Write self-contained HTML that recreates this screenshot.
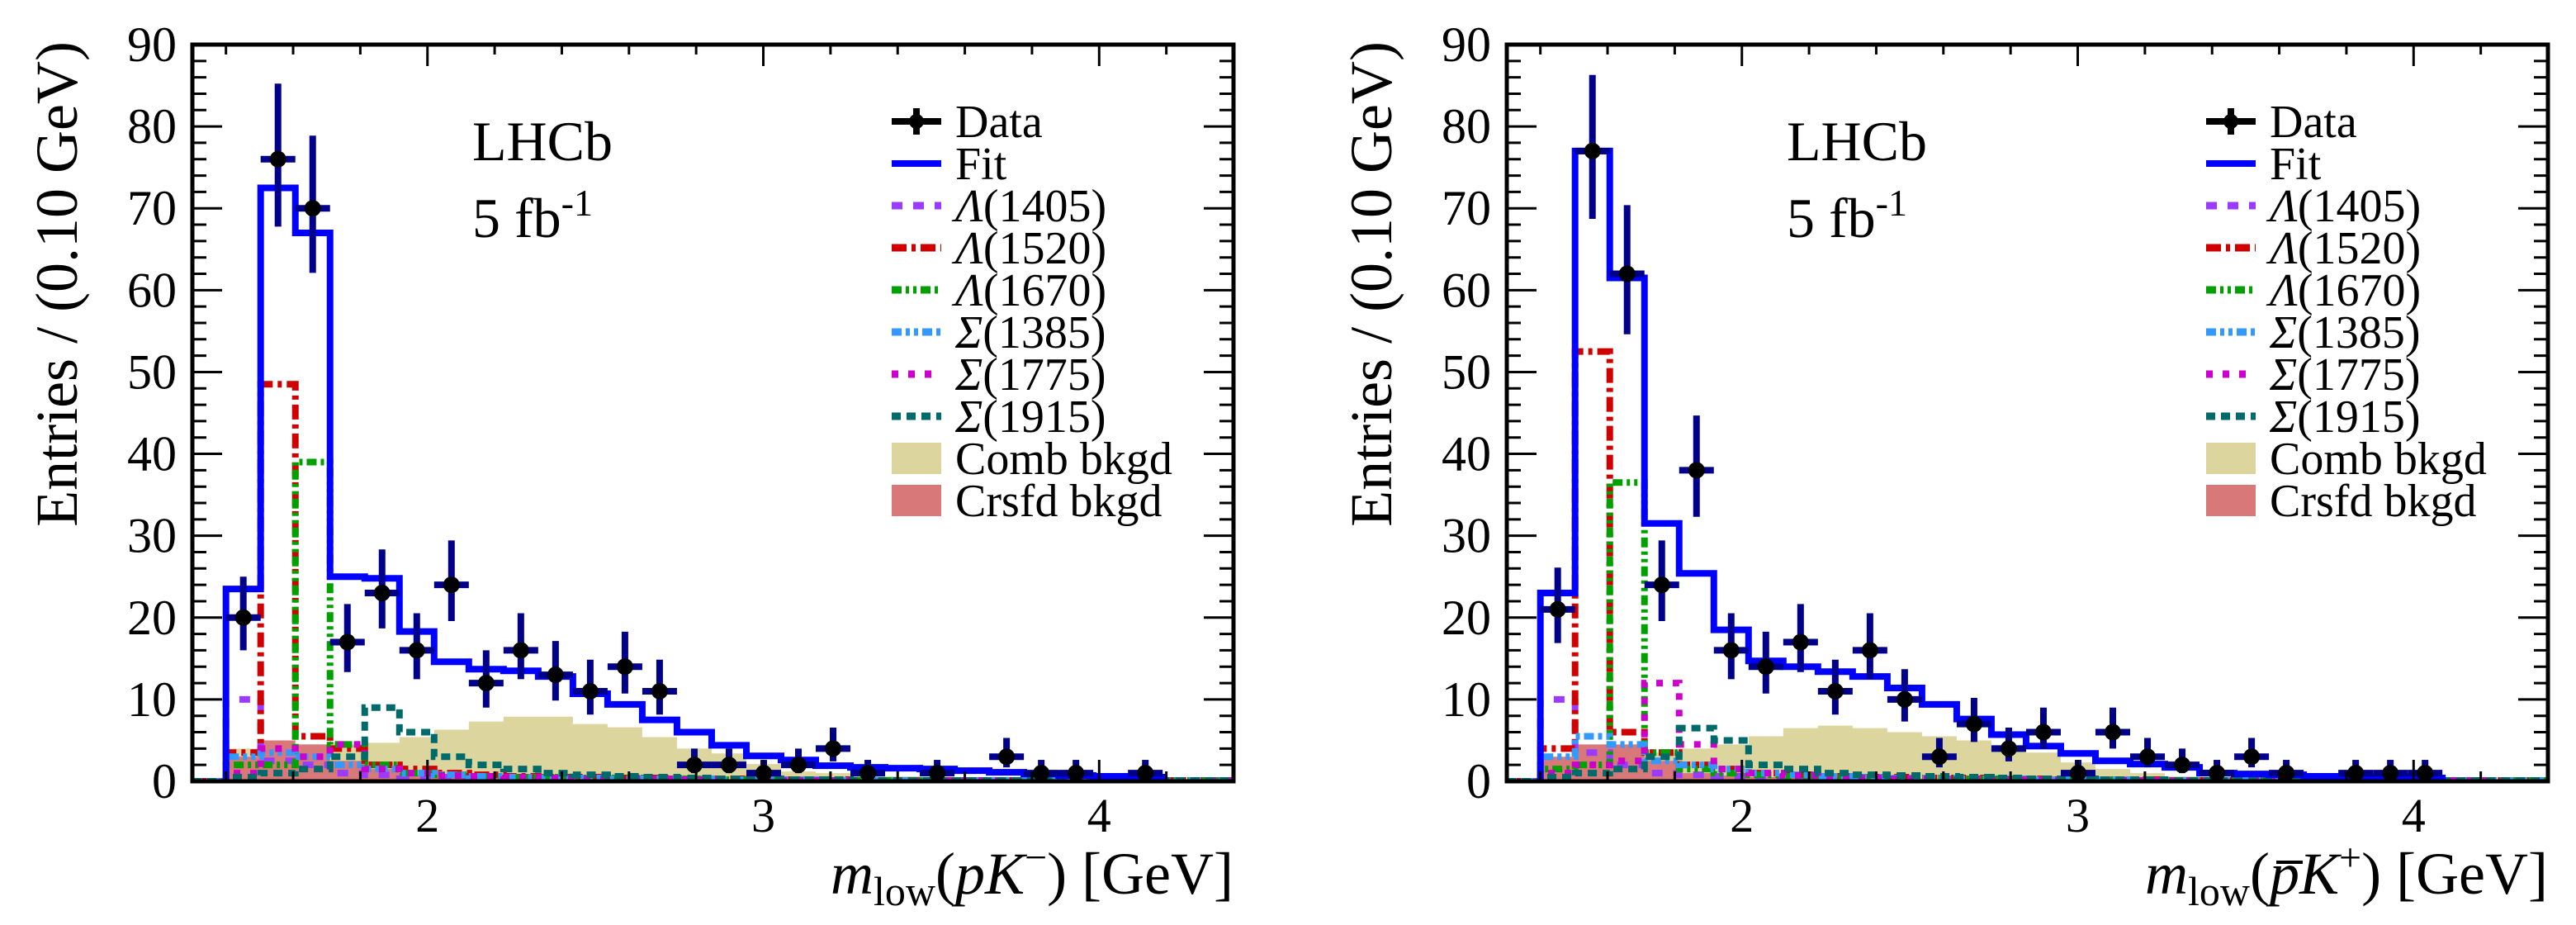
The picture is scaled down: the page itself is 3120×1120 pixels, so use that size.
<!DOCTYPE html>
<html><head><meta charset="utf-8"><style>
html,body{margin:0;padding:0;background:#fff;}
svg{display:block;font-family:"Liberation Serif","DejaVu Serif",serif;}
</style></head><body>
<svg id="chart" width="3120" height="1120" viewBox="0 0 3120 1120" xmlns="http://www.w3.org/2000/svg"></svg>
<script>
// ---- data (bin index 0 starts at 1.4 GeV) ----
const binStart = 1.4;
const binWidth = 0.1033;
const xTicks = [2, 3, 4];
const yTicks = [0, 10, 20, 30, 40, 50, 60, 70, 80, 90];

const dataL = [20,76,70,17,23,16,24,12,16,13,11,14,11,2,2,1,2,4,1,0,1,0,3,1,1,0,1,0];
const fitL = [23.5,72.5,67,25,24.8,18.3,14.6,13.7,13.5,12.8,10.7,9.4,7.5,6,4.4,3.1,2.6,1.9,1.7,1.6,1.5,1.3,1.1,0.9,0.7,0.6,0.5];
const combL = [4,4.5,4.5,4.5,4.7,5.4,6.3,7.3,7.9,7.9,7,6.6,5.4,4,3.4,2.1,1.2,1,0.8,0.6,0.5,0.4,0.3,0.3,0.2,0.2,0.1,0.1,0.1,0.1];
const crsfdL = [3,5,4.5,2.5,1.5,0.8,0.6,0.5,0.4,0.4,0.3,0.3,0.2,0.2,0.2,0.1,0.1,0.1,0.1,0.1,0.1,0.1,0.1,0.1,0.1,0.1,0.1,0.1,0.1,0.1];
const l1405L = [10,2.5,2,1,0.8,0.6,0.5,0.4,0.4,0.3,0.3,0.3,0.2,0.2,0.2,0.2,0.1,0.1,0.1,0.1,0.1,0.1,0.1,0.1,0.1,0.1,0.1,0.1,0.1,0.1];
const l1520L = [3.5,48.5,5.5,4,2,1.5,1,0.8,0.6,0.5,0.5,0.4,0.4,0.3,0.3,0.2,0.2,0.2,0.1,0.1,0.1,0.1,0.1,0.1,0.1,0.1,0.1,0.1,0.1,0.1];
const l1670L = [2,2,39,4.5,2,1,0.8,0.6,0.5,0.5,0.4,0.4,0.3,0.3,0.2,0.2,0.2,0.1,0.1,0.1,0.1,0.1,0.1,0.1,0.1,0.1,0.1,0.1,0.1,0.1];
const s1385L = [3,3.5,3,2,1.5,1,0.8,0.6,0.5,0.4,0.4,0.3,0.3,0.3,0.2,0.2,0.2,0.1,0.1,0.1,0.1,0.1,0.1,0.1,0.1,0.1,0.1,0.1,0.1,0.1];
const s1775L = [1,4,3,4.5,1.5,1,0.7,0.6,0.5,0.4,0.3,0.3,0.3,0.2,0.2,0.2,0.1,0.1,0.1,0.1,0.1,0.1,0.1,0.1,0.1,0.1,0.1,0.1,0.1,0.1];
const s1915L = [0.5,1,1.5,3,9,6,3,2,1.5,1,0.8,0.6,0.5,0.4,0.3,0.3,0.2,0.2,0.1,0.1,0.1,0.1,0.1,0.1,0.1,0.1,0.1,0.1,0.1,0.1];

const dataR = [21,77,62,24,38,16,14,17,11,16,10,3,7,4,6,1,6,3,2,1,3,1,0,1,1,1];
const fitR = [23,77,61.5,31.5,25.4,18.5,14.7,14,13.4,12.8,11.4,9.4,7.6,5.7,4.3,3.4,2.5,2.1,1.7,1.0,0.9,0.8,0.6,0.5,0.5,0.4];
const combR = [2,3,3.5,3.5,4,4.5,5.5,6.5,6.8,6.5,6,5.5,5,4,3.5,2.3,1.5,1,0.6,0.5,0.4,0.3,0.3,0.2,0.2,0.1,0.1,0.1,0.1,0.1];
const crsfdR = [3,4.5,4.5,2.5,1,0.7,0.5,0.4,0.4,0.3,0.3,0.2,0.2,0.2,0.2,0.1,0.1,0.1,0.1,0.1,0.1,0.1,0.1,0.1,0.1,0.1,0.1,0.1,0.1,0.1];
const l1405R = [10,3.5,2,1,0.8,0.6,0.5,0.4,0.4,0.3,0.3,0.3,0.2,0.2,0.2,0.2,0.1,0.1,0.1,0.1,0.1,0.1,0.1,0.1,0.1,0.1,0.1,0.1,0.1,0.1];
const l1520R = [4,52.5,6,3.5,2,1.5,1,0.8,0.6,0.5,0.5,0.4,0.4,0.3,0.3,0.2,0.2,0.2,0.1,0.1,0.1,0.1,0.1,0.1,0.1,0.1,0.1,0.1,0.1,0.1];
const l1670R = [1.5,2,36.5,3.5,1.5,1,0.8,0.6,0.5,0.5,0.4,0.4,0.3,0.3,0.2,0.2,0.2,0.1,0.1,0.1,0.1,0.1,0.1,0.1,0.1,0.1,0.1,0.1,0.1,0.1];
const s1385R = [3,5.5,4.5,2.5,2,1.5,1,0.8,0.6,0.5,0.4,0.4,0.3,0.3,0.2,0.2,0.2,0.1,0.1,0.1,0.1,0.1,0.1,0.1,0.1,0.1,0.1,0.1,0.1,0.1];
const s1775R = [1,2,2.5,12,4.5,1.5,1,0.7,0.5,0.4,0.3,0.3,0.3,0.2,0.2,0.2,0.1,0.1,0.1,0.1,0.1,0.1,0.1,0.1,0.1,0.1,0.1,0.1,0.1,0.1];
const s1915R = [0.5,1,1.5,3,6.5,5,2,1.5,1,0.8,0.7,0.6,0.5,0.4,0.3,0.3,0.2,0.2,0.1,0.1,0.1,0.1,0.1,0.1,0.1,0.1,0.1,0.1,0.1,0.1];

const legendLabels = ["Data","Fit","1405","1520","1670","1385","1775","1915","Comb bkgd","Crsfd bkgd"];

const NS = "http://www.w3.org/2000/svg";
const svg = document.getElementById("chart");
function mk(tag, attrs, parent){
  const e = document.createElementNS(NS, tag);
  for (const k in attrs) e.setAttribute(k, attrs[k]);
  (parent || svg).appendChild(e);
  return e;
}

const X0 = 1.3, X1 = 4.4, PX0 = 233, PX1 = 1494, PY0 = 946, PY1 = 54, YMAX = 90;

function drawPanel(off, id, dat, fit, comb, crsfd, comps, xTitleHTML, overlineIdx) {
  const xs = v => off + PX0 + (v - X0) / (X1 - X0) * (PX1 - PX0);
  const ys = v => PY0 - v / YMAX * (PY0 - PY1);
  const edge = i => xs(binStart + i * binWidth);

  const g = mk("g", {});
  
  
  const cp = mk("clipPath", {id: id + "clip"}, g);
  mk("rect", {x: xs(X0), y: PY1, width: xs(X1) - xs(X0), height: PY0 - PY1}, cp);
  const plot = mk("g", {"clip-path": "url(#" + id + "clip)"}, g);

  function stepPath(vals, n) {
    let d = "M" + edge(0) + "," + ys(0);
    for (let i = 0; i < n; i++) d += " L" + edge(i) + "," + ys(vals[i]) + " L" + edge(i + 1) + "," + ys(vals[i]);
    d += " L" + edge(n) + "," + ys(0);
    return d;
  }
  function compPath(vals) {
    let d = "M" + xs(X0) + "," + ys(0) + " L" + edge(0) + "," + ys(0);
    for (let i = 0; i < vals.length; i++) d += " L" + edge(i) + "," + ys(vals[i]) + " L" + edge(i + 1) + "," + ys(vals[i]);
    return d;
  }
  const cf = mk("path", {d: stepPath(comb, comb.length) + " Z", fill: "#dcd69e", stroke: "none"}, plot);
  
  
  const rf = mk("path", {d: stepPath(crsfd, crsfd.length) + " Z", fill: "#d87878", stroke: "none"}, plot);
  
  
  comps.forEach(c => {
    const p = mk("path", {d: compPath(c.vals), fill: "none", stroke: c.color, "stroke-width": 8, "stroke-dasharray": c.dash}, plot);
    
    
  });
  const fp = mk("path", {d: stepPath(fit, fit.length), fill: "none", stroke: "#0000ff", "stroke-width": 8}, plot);
  
  

  dat.forEach((n, i) => {
    if (n <= 0) return;
    const cx = (edge(i) + edge(i + 1)) / 2;
    const up = Math.sqrt(n + 0.25) + 0.5, dn = Math.sqrt(n + 0.25) - 0.5;
    const pg = mk("g", {}, plot);
    
    
    mk("line", {x1: cx, x2: cx, y1: ys(n + up), y2: ys(n - dn), stroke: "#00008b", "stroke-width": 8}, pg);
    mk("line", {x1: edge(i), x2: edge(i + 1), y1: ys(n), y2: ys(n), stroke: "#00008b", "stroke-width": 8}, pg);
    mk("circle", {cx: cx, cy: ys(n), r: 10, fill: "#000"}, pg);
  });

  const fr = mk("rect", {x: xs(X0), y: PY1, width: xs(X1) - xs(X0), height: PY0 - PY1, fill: "none", stroke: "#000", "stroke-width": 5}, g);
  
  
  for (let k = 0; k <= 15; k++) {
    const v = 1.4 + k * 0.2;
    if (v > X1) break;
    const major = Math.abs(v - Math.round(v)) < 1e-6;
    const L = major ? 26 : 12;
    const x = xs(v);
    mk("line", {x1: x, x2: x, y1: PY0, y2: PY0 - L, stroke: "#000", "stroke-width": 3}, g);
    mk("line", {x1: x, x2: x, y1: PY1, y2: PY1 + L, stroke: "#000", "stroke-width": 3}, g);
  }
  xTicks.forEach(t => {
    const tl = mk("text", {x: xs(t), y: 1007, "font-size": 58, "text-anchor": "middle"}, g);
    tl.textContent = t;
    
    
  });
  for (let v = 0; v <= YMAX; v += 2) {
    const major = v % 10 === 0;
    const L = major ? 36 : 17;
    const y = ys(v);
    mk("line", {x1: xs(X0), x2: xs(X0) + L, y1: y, y2: y, stroke: "#000", "stroke-width": 3}, g);
    mk("line", {x1: xs(X1), x2: xs(X1) - L, y1: y, y2: y, stroke: "#000", "stroke-width": 3}, g);
  }
  yTicks.forEach(t => {
    const tl = mk("text", {x: off + 214, y: ys(t) + 20, "font-size": 60, "text-anchor": "end"}, g);
    tl.textContent = t;
    
    
  });
  const yt = mk("text", {x: 0, y: 0, "font-size": 72, "text-anchor": "end", transform: "translate(" + (off + 93) + ",50) rotate(-90)"}, g);
  yt.textContent = "Entries / (0.10 GeV)";
  
  

  const xt = mk("text", {x: xs(X1), y: 1082, "font-size": 72, "text-anchor": "end"}, g);
  xt.innerHTML = xTitleHTML;
  
  
  if (overlineIdx >= 0) {
    try {
      const b = xt.getExtentOfChar(overlineIdx);
      const ol = mk("line", {x1: b.x + 8, x2: b.x + b.width + 4, y1: 1044, y2: 1044, stroke: "#000", "stroke-width": 4}, g);
      
      
    } catch (e) {}
  }

  const lh = mk("text", {x: off + 572, y: 194, "font-size": 68}, g);
  lh.textContent = "LHCb";
  
  
  const lum = mk("text", {x: off + 572, y: 287, "font-size": 68}, g);
  lum.innerHTML = '5 fb<tspan dy="-26" font-size="46">-1</tspan>';
  
  

  const lg = mk("g", {}, g);
  
  
  const lx0 = off + 1080, lx1 = off + 1140, tx = off + 1157;
  const rowY = k => 147 + k * 51;
  legendLabels.forEach((lab, k) => {
    const y = rowY(k);
    const eg = mk("g", {}, lg);
    
    
    if (k === 0) {
      mk("line", {x1: lx0, x2: lx1, y1: y, y2: y, stroke: "#000", "stroke-width": 8}, eg);
      mk("line", {x1: (lx0 + lx1) / 2, x2: (lx0 + lx1) / 2, y1: y - 16, y2: y + 16, stroke: "#000", "stroke-width": 8}, eg);
      mk("circle", {cx: (lx0 + lx1) / 2, cy: y, r: 9, fill: "#000"}, eg);
    } else if (k === 1) {
      mk("line", {x1: lx0, x2: lx1, y1: y, y2: y, stroke: "#0000ff", "stroke-width": 8}, eg);
    } else if (k < 8) {
      const c = comps[k - 2];
      mk("line", {x1: lx0, x2: lx1, y1: y, y2: y, stroke: c.color, "stroke-width": 9, "stroke-dasharray": c.dash}, eg);
    } else {
      mk("rect", {x: lx0, y: y - 19, width: lx1 - lx0, height: 38, fill: k === 8 ? "#dcd69e" : "#d87878"}, eg);
    }
    const t = mk("text", {x: tx, y: y + 19, "font-size": 56}, eg);
    if (k >= 2 && k < 8) {
      t.innerHTML = '<tspan font-style="italic">' + (k < 5 ? "Λ" : "Σ") + '</tspan>(' + lab + ')';
    } else t.textContent = lab;
  });
}

const styles = [
  {name: "lambda-1405", color: "#9b3bff", dash: "13 13"},
  {name: "lambda-1520", color: "#d00000", dash: "18 6 5 6"},
  {name: "lambda-1670", color: "#00a000", dash: "12 5 4 5 4 5"},
  {name: "sigma-1385", color: "#3399ff", dash: "12 5 5 5 5 5"},
  {name: "sigma-1775", color: "#cc00cc", dash: "8 12"},
  {name: "sigma-1915", color: "#006a6a", dash: "11 7"}
];
function comps(arrs) { return styles.map((s, i) => ({name: s.name, color: s.color, dash: s.dash, vals: arrs[i]})); }

drawPanel(0, "left", dataL, fitL, combL, crsfdL, comps([l1405L, l1520L, l1670L, s1385L, s1775L, s1915L]),
  '<tspan font-style="italic">m</tspan><tspan font-size="50" dy="14">low</tspan><tspan dy="-14">(</tspan><tspan font-style="italic">pK</tspan><tspan font-size="48" dy="-28">−</tspan><tspan dy="28">) [GeV]</tspan>', -1);
drawPanel(1592, "right", dataR, fitR, combR, crsfdR, comps([l1405R, l1520R, l1670R, s1385R, s1775R, s1915R]),
  '<tspan font-style="italic">m</tspan><tspan font-size="50" dy="14">low</tspan><tspan dy="-14">(</tspan><tspan font-style="italic">p</tspan><tspan font-style="italic">K</tspan><tspan font-size="48" dy="-28">+</tspan><tspan dy="28">) [GeV]</tspan>', 5);
</script>
</body></html>
